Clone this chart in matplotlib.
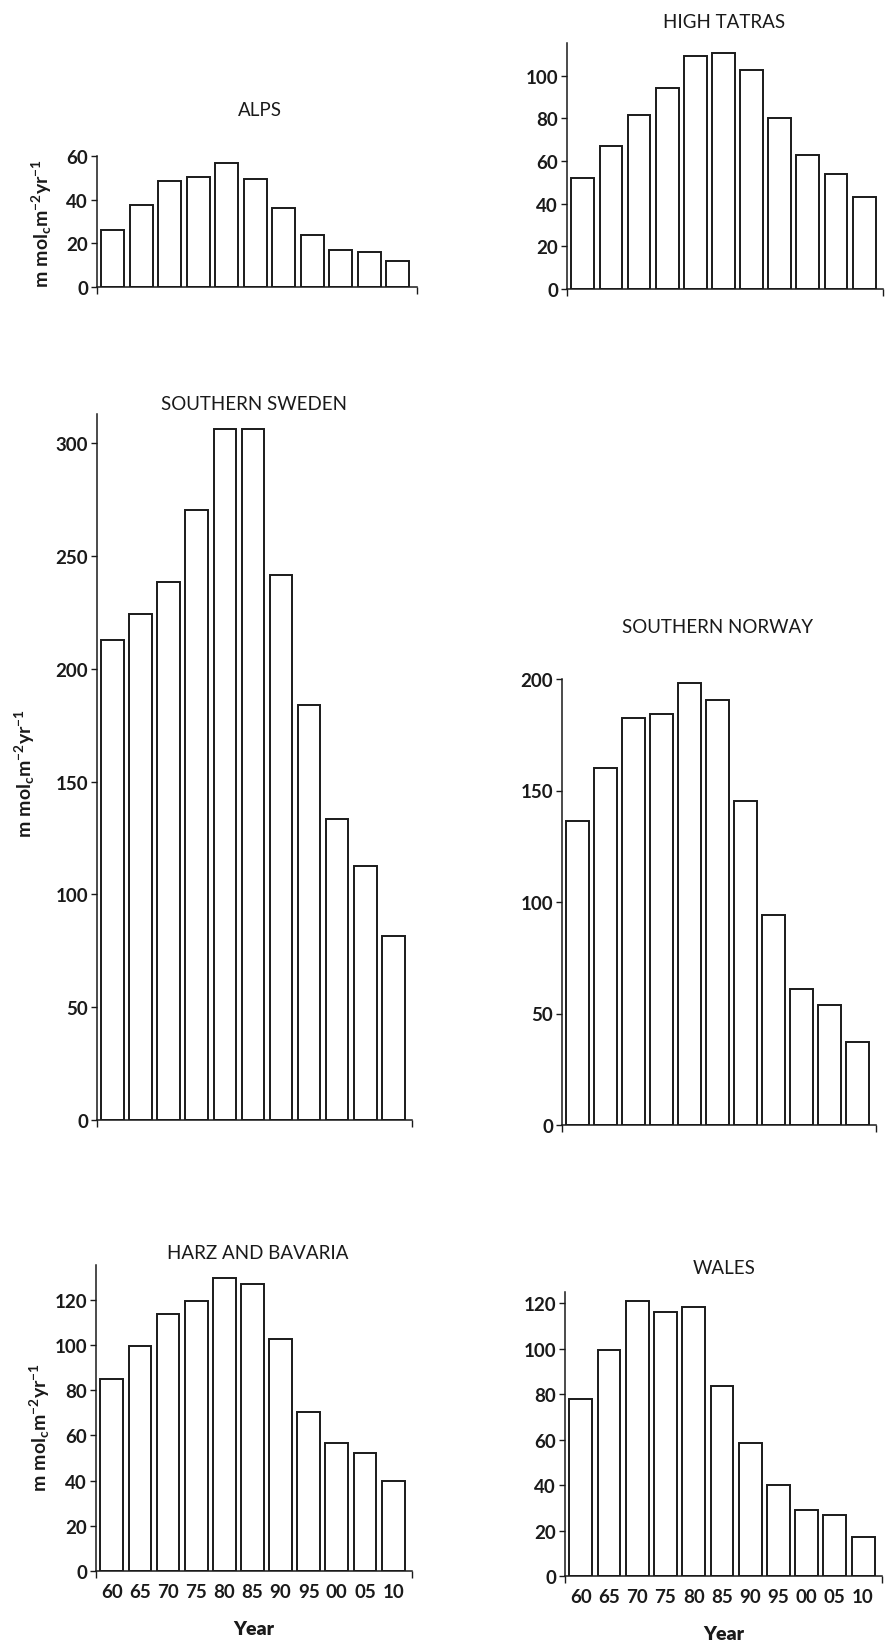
import matplotlib
matplotlib.use("Agg")
import matplotlib.pyplot as plt
import numpy as np

plt.rcParams['font.family'] = ['Lato', 'DejaVu Sans']
plt.rcParams['mathtext.fontset'] = 'custom'
plt.rcParams['mathtext.rm'] = 'Lato:bold'
plt.rcParams['mathtext.it'] = 'Lato:bold'
plt.rcParams['mathtext.bf'] = 'Lato:bold'

years = ['60', '65', '70', '75', '80', '85', '90', '95', '00', '05', '10']
alps = [26, 37.5, 48.5, 50.5, 57, 49.5, 36, 24, 17, 16, 12]
high_tatras = [52, 67, 81.5, 94, 109, 110.5, 102.5, 80, 63, 54, 43]
southern_sweden = [213, 224.5, 238.5, 270.5, 306.5, 306.5, 241.5, 184, 133.5, 112.5, 81.5]
southern_norway = [136.5, 160, 182.5, 184.5, 198, 190.5, 145.5, 94, 61, 54, 37]
harz_bavaria = [85, 99.5, 113.5, 119.5, 129.5, 127, 102.5, 70.5, 56.5, 52, 40]
wales = [78, 99.5, 121, 116, 118.5, 83.5, 58.5, 40, 29, 27, 17]

W, H = 889, 1649
fig = plt.figure(figsize=(W / 100, H / 100), dpi=100)

ylabel = r'$\mathrm{m\ mol_{c}m^{-2}yr^{-1}}$'

# (title, values, left px, right px, y0 px, top px, ymax, yticks, title x, title y, xlabels, ylabel pos)
panels = [
    ('ALPS', alps, 97, 417, 288, 157, 60, [0, 20, 40, 60], 260, 110, False, (42, 223)),
    ('HIGH TATRAS', high_tatras, 567, 883, 290, 44, 115.3, [0, 20, 40, 60, 80, 100], 724, 23, False, None),
    ('SOUTHERN SWEDEN', southern_sweden, 97, 412, 1121, 415, 313, [0, 50, 100, 150, 200, 250, 300], 254, 404, False, (25, 773)),
    ('SOUTHERN NORWAY', southern_norway, 562, 876, 1126, 680, 200, [0, 50, 100, 150, 200], 718, 628, False, None),
    ('HARZ AND BAVARIA', harz_bavaria, 96, 412, 1572, 1266, 135.3, [0, 20, 40, 60, 80, 100, 120], 258, 1254, True, (40, 1427)),
    ('WALES', wales, 565, 882, 1577, 1293, 125, [0, 20, 40, 60, 80, 100, 120], 724, 1269, True, None),
]

x = np.arange(len(years))
x0, x1 = -0.56, 10.67
ink = '#1a1a1a'

for (title, vals, L, R, y0, top, ymax, yt, tx, ty, showx, ylpos) in panels:
    ax = fig.add_axes([L / W, 1 - y0 / H, (R - L) / W, (y0 - top) / H])
    ax.bar(x, vals, width=0.81, color='white', edgecolor=ink, linewidth=1.4, zorder=2)
    ax.set_xlim(x0, x1)
    ax.set_ylim(0, ymax)
    for s in ['top', 'right']:
        ax.spines[s].set_visible(False)
    for s in ['left', 'bottom']:
        ax.spines[s].set_linewidth(1.1)
        ax.spines[s].set_color(ink)
    ax.set_yticks(yt)
    ax.set_yticklabels([str(v) for v in yt], fontsize=13.5, fontweight='bold', color=ink)
    ax.tick_params(axis='y', direction='out', length=4.5, width=1.0, pad=2, colors=ink)
    ax.set_xticks(x)
    if showx:
        ax.set_xticklabels(years, fontsize=13.5, fontweight='bold', color=ink)
    else:
        ax.set_xticklabels([])
    ax.tick_params(axis='x', which='major', length=0, pad=9)
    ax.set_xticks([x0, x1], minor=True)
    ax.tick_params(axis='x', which='minor', direction='out', length=5, width=1.0, colors=ink)
    fig.text(tx / W, 1 - ty / H, title, fontsize=13.5, ha='center', va='center', color=ink)
    if showx:
        fig.text(((L + R) / 2) / W, 1 - (y0 + 58) / H, 'Year', fontsize=14, fontweight='heavy',
                 ha='center', va='center', color=ink)
    if ylpos is not None:
        fig.text(ylpos[0] / W, 1 - ylpos[1] / H, ylabel, fontsize=14, rotation=90,
                 ha='center', va='center', color=ink)

fig.savefig('out.png', dpi=100, facecolor='white')
